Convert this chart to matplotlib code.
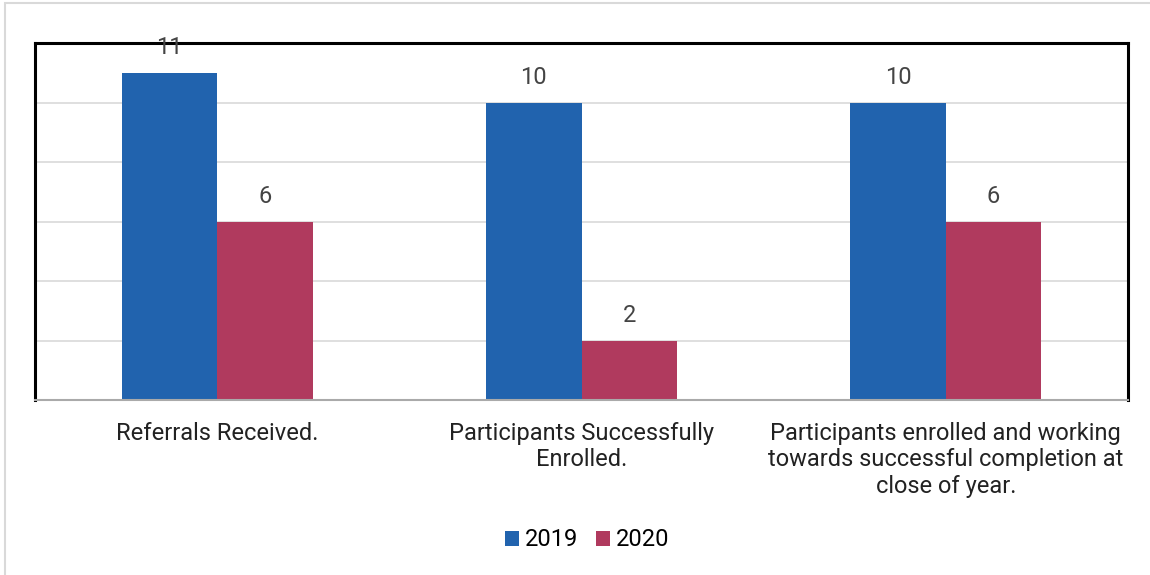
import numpy as np
import matplotlib as mpl
import matplotlib.pyplot as plt
from matplotlib.patches import Rectangle

mpl.rc('font', family='Roboto', size=17)

categories = ['Referrals Received.',
              'Participants Successfully\nEnrolled.',
              'Participants enrolled and working\ntowards successful completion at\nclose of year.']
series_names = ['2019', '2020']
vals_2019 = [11, 10, 10]
vals_2020 = [6, 2, 6]
colors = ['#2163AE', '#B03A5E']

fig = plt.figure(figsize=(11.5, 5.75), dpi=100)
# light outer frame (only top/left visible in the reference)
fig.patches.append(Rectangle((5 / 1150, 0 - 0.01), 1.2, (575 - 3) / 575 + 0.01,
                             transform=fig.transFigure, fill=False,
                             edgecolor='#d9d9d9', linewidth=1.5))

ax = fig.add_axes([35 / 1150, 1 - 400 / 575, (1128 - 35) / 1150, (400 - 43) / 575])

x = np.arange(len(categories))
w = 0.262
b1 = ax.bar(x - w / 2, vals_2019, w, color=colors[0], label=series_names[0], zorder=3)
b2 = ax.bar(x + w / 2, vals_2020, w, color=colors[1], label=series_names[1], zorder=3)

for bars in (b1, b2):
    ax.bar_label(bars, padding=10, fontsize=17, color='#444444')

ax.set_xlim(-0.5, 2.5)
ax.set_ylim(0, 12)
ax.set_yticks(np.arange(0, 13, 2))
ax.set_yticklabels([])
ax.tick_params(axis='y', length=0)
ax.grid(axis='y', color='#d9d9d9', linewidth=1.2, zorder=0)

ax.set_xticks(x)
ax.set_xticklabels(categories, fontsize=17, color='#222222', linespacing=1.2)
ax.tick_params(axis='x', length=0, pad=15.5)

for s in ['left', 'top', 'right']:
    ax.spines[s].set_color('black')
    ax.spines[s].set_linewidth(2.2)
ax.spines['bottom'].set_color('#aaaaaa')
ax.spines['bottom'].set_linewidth(1.5)
ax.spines['bottom'].set_zorder(4)

fig.legend(loc='center', bbox_to_anchor=(587 / 1150, 1 - 540 / 575), ncol=2,
           frameon=False, fontsize=17, handlelength=0.6, handleheight=0.6,
           handletextpad=0.25, columnspacing=0.75)

fig.savefig('out.png', dpi=100)
